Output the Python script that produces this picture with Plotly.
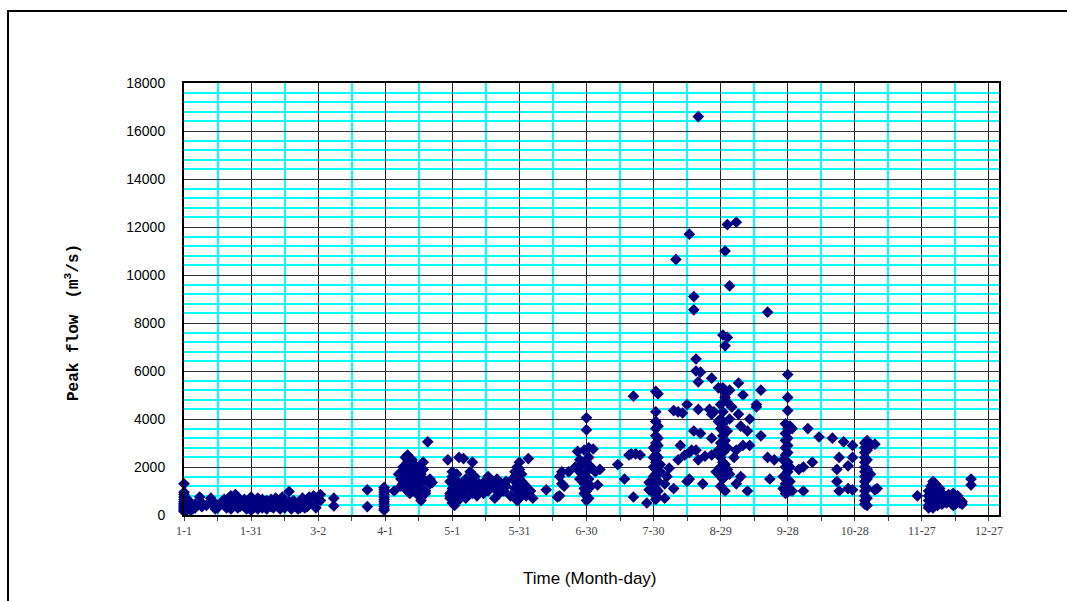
import plotly.graph_objects as go

# Tick positions (day of year, 0 = Jan 1) and labels
tick_days = [0, 30, 60, 90, 120, 150, 180, 210, 240, 270, 300, 330, 360]
tick_labels = ["1-1", "1-31", "3-2", "4-1", "5-1", "5-31", "6-30",
               "7-30", "8-29", "9-28", "10-28", "11-27", "12-27"]

# Peak flows (m3/s) grouped by day of year
winter = [
    (0, [1300, 950, 850, 750, 650, 550, 480, 420, 360, 300, 250, 200, 150]),
    (1, [700, 500, 350, 250, 180]), (2, [600, 420, 280]), (3, [500, 300, 200]),
    (4, [380, 250]), (5, [450, 300]), (7, [750]), (8, [350, 500]), (10, [400]),
    (12, [700]), (13, [550]), (14, [450, 350, 250]), (15, [300]), (17, [550]),
    (18, [650, 400]), (19, [500, 300]), (20, [600, 700, 350]), (21, [800, 450, 250]),
    (22, [650, 550]), (23, [850, 400]), (24, [750, 500, 300]), (25, [600, 350]),
    (26, [450, 550]), (27, [350, 650]), (28, [500, 250]), (29, [400, 600]),
    (30, [750, 650, 550, 450, 350, 250, 200]), (31, [500, 300]), (32, [600, 400]),
    (33, [700, 350, 250]), (34, [500, 450]), (35, [300, 650]), (36, [550, 400]),
    (37, [250, 600]), (38, [450]), (39, [650, 350]), (40, [300, 550]),
    (41, [700, 450]), (42, [500, 350]), (43, [600, 250]), (44, [750]),
    (45, [450, 300]), (47, [980, 550]), (48, [250]), (49, [600, 400]), (50, [350]),
    (51, [500, 250]), (52, [300, 450]), (53, [700, 400]), (54, [550, 300]),
    (55, [600, 350]), (56, [750, 450]), (58, [800]), (59, [650, 300]),
    (61, [850, 600]), (67, [700, 380]), (82, [1050, 350]),
]
spring = [
    (89.5, [1150, 1050, 950, 850, 750, 650, 550, 450, 350, 250, 200]),
    (94, [1000]), (96, [1700]), (97, [1500, 1200]), (98, [2000, 1800, 1300]),
    (99, [2400, 1600, 1100]), (100, [2500, 2200, 1400, 1000]),
    (101, [1900, 1700, 1200, 900]), (102, [2300, 1500, 1300]),
    (103, [2100, 1800, 1000]), (104, [1600, 1400, 1200]), (105, [2000, 1100, 800]),
    (106, [1700, 1300, 600]), (107, [1900, 2200, 1500]), (108, [1000, 900]),
    (109, [3050, 1400]), (110, [1500, 1300]), (111, [1350]),
    (118, [2300]), (119, [1400, 900, 800, 700]),
    (120, [1800, 1600, 1300, 1100, 900, 700, 500]), (121, [1500, 1200, 1000, 600, 400]),
    (122, [1700, 1400, 800, 550]), (123, [2400, 1300, 900, 650]), (124, [1100, 800]),
    (125, [2350, 1200, 950]), (126, [1500, 1000, 700]), (127, [1300]),
    (128, [1800, 1100]), (129, [2200, 1400, 900]), (130, [1600, 1200]),
    (131, [1000, 800]), (132, [1300]), (134, [1150, 900]), (135, [1450]),
    (136, [1600, 1000]), (137, [1350, 1200]), (139, [700, 1100]), (140, [1500]),
    (141, [1300, 900]), (143, [1000]), (144, [1400, 1200]), (146, [800]),
    (147, [1500]), (148, [1600, 1100, 1800]), (149, [2000, 1300, 600]),
    (150, [2200, 1900, 1500, 1100, 900, 700]), (151, [1700, 1000, 1400]),
    (153, [1200, 800]), (154, [2350]), (155, [1000]), (156, [700]),
    (162, [1050]), (167, [750]), (168, [800, 1600]), (169, [1300, 1800]),
    (170, [1200]), (172, [1800]), (175, [2000]), (176, [1900, 2650]),
    (177, [1500, 2300]), (178, [1700, 2100]), (179, [1600, 1300, 2700, 1100, 900]),
    (180, [4050, 3550, 2200, 1800, 1400, 1000, 800, 600]),
    (181, [2800, 2400, 1500, 700]), (182, [2000, 1200]), (183, [2750, 1900]),
    (184, [1800]), (185, [1250]), (186, [1900]),
]
summer = [
    (194, [2100]), (197, [1500]), (199, [2500]), (200, [2550]), (201, [750, 4950]),
    (202, [2550]), (204, [2500]), (207, [500]), (208, [1050, 1350]),
    (210, [2800, 2400, 2000, 1600, 1200, 900]),
    (211, [5150, 4300, 3900, 3600, 3300, 3000, 2700, 2500, 2200, 1900, 1700, 1500, 1100, 800, 650]),
    (212, [5050, 3700, 3200, 2900, 2400, 1400, 1000]), (213, [1800, 2100]),
    (215, [1300, 700]), (216, [1600]), (217, [1950]), (219, [4350, 1100]),
    (220, [10650]), (221, [4300, 2300]), (222, [2900]), (223, [4250]), (224, [2500]),
    (225, [4600, 1400]), (226, [11700, 2600, 1500]), (227, [2700]),
    (228, [9100, 8550, 3500]), (229, [6000, 6500, 2700]),
    (230, [16600, 5550, 4400, 2300]), (231, [5950, 3400]), (232, [1300]),
    (233, [2450]), (235, [4400]), (236, [5700, 4200, 3200, 2500]), (237, [4300]),
    (238, [1800]), (239, [5300, 3900, 2700]),
    (240, [4600, 4000, 3600, 3000, 2400, 2000, 1600, 1200]),
    (241, [7500, 5300, 4300, 3800, 3300, 2900, 2600, 2200, 1800, 1500]),
    (242, [11000, 7050, 5100, 4900, 3100, 2100, 1000]),
    (243, [12100, 7400, 4700, 3500, 2800, 1900]), (244, [9550, 5200, 4000, 1700]),
    (245, [4500]), (246, [2400]), (247, [12200, 2700, 1300]), (248, [5500, 4200]),
    (249, [3700, 1600]), (250, [5000, 2900]), (252, [3500, 1000]), (253, [4000, 2900]),
    (256, [4600, 4500]), (258, [5200, 3300]), (261, [8450, 2400]), (262, [1500]),
    (264, [2300]),
]
autumn = [
    (268, [2300, 1600, 1100]),
    (269, [3800, 3400, 3100, 2800, 2500, 2000, 1600, 1300, 1000, 900]),
    (270, [5850, 4900, 4350, 3600, 3200, 2900, 2600, 2200, 1800, 1200, 950]),
    (271, [3700, 2000, 1400, 1050]), (272, [3600, 1000]), (275, [1900]),
    (277, [2000, 1000]), (279, [3600]), (281, [2200]), (284, [3250]),
    (290, [3200]), (292, [1900, 1400]), (293, [2400, 1000]), (295, [3050]),
    (297, [2050, 1100]), (299, [2900, 2400, 1050]),
    (304.5, [3000, 2800, 2600, 2400, 2200, 2000, 1800, 1600, 1400, 1200, 1000, 800, 600, 450]),
    (305.5, [3100, 2700, 2300, 1900, 1500, 1100, 700, 400]),
    (307, [2900, 1700]), (309, [2950, 1050]), (310, [1100]),
    (328, [800]), (333, [1000, 800, 600, 400, 300]),
    (334, [1200, 900, 700, 500, 350]), (335, [1400, 1100, 800, 600, 450, 300]),
    (336, [1300, 1000, 700, 500]), (337, [900, 600, 400]), (338, [1100, 800, 550]),
    (339, [900, 700, 450]), (340, [800, 600]), (341, [650, 500]), (342, [850, 700]),
    (343, [750, 550]), (344, [900, 600, 400]), (345, [700, 450]), (346, [800, 600]),
    (347, [650, 500]), (348, [550, 450]), (352, [1500, 1250]),
]

days, flows = [], []
for group in (winter, spring, summer, autumn):
    for d, vals in group:
        for v in vals:
            days.append(d)
            flows.append(v)

fig = go.Figure()
fig.add_trace(go.Scatter(
    x=days, y=flows, mode="markers", cliponaxis=False,
    marker=dict(symbol="diamond", size=9, color="#000080", line=dict(width=0)),
    showlegend=False,
))

W, H = 1067, 601
L, R, T, B = 184, 68, 83, 86
pw, ph = W - L - R, H - T - B

fig.update_layout(
    width=W, height=H,
    margin=dict(l=L, r=R, t=T, b=B, autoexpand=False),
    paper_bgcolor="white", plot_bgcolor="white",
    xaxis=dict(
        range=[0, 364.5], tickmode="linear", tick0=0, dtick=30,
        labelalias={str(d): lab for d, lab in zip(tick_days, tick_labels)},
        showgrid=True, gridcolor="#222222", gridwidth=1,
        minor=dict(dtick=15, tick0=0, showgrid=True, gridcolor="#00FFFF",
                   gridwidth=2, ticks="outside", ticklen=4, tickcolor="#444"),
        ticks="outside", ticklen=4, tickcolor="#444",
        showline=True, linecolor="black", linewidth=2, mirror=True,
        tickfont=dict(family="Liberation Serif, DejaVu Serif, serif", size=12, color="#444"),
        zeroline=False,
    ),
    yaxis=dict(
        range=[0, 18000], tickmode="linear", dtick=2000, tick0=0, tickformat="d",
        showgrid=True, gridcolor="#333333", gridwidth=1,
        minor=dict(dtick=400, tick0=0, showgrid=True, gridcolor="#00FFFF", gridwidth=2),
        ticks="", ticklabelstandoff=14,
        showline=True, linecolor="black", linewidth=2, mirror=True,
        tickfont=dict(family="Arial, Liberation Sans, sans-serif", size=14, color="black"),
        zeroline=False,
    ),
    annotations=[
        dict(text="<b>Peak flow\u3000(m<sup>3</sup>/s)</b>", textangle=-90,
             xref="paper", yref="paper", x=(72 - L) / pw, y=(H - B - 322) / ph,
             xanchor="center", yanchor="middle", showarrow=False,
             font=dict(family="Liberation Mono, Courier New, monospace", size=16, color="black")),
        dict(text="Time (Month-day)", xref="paper", yref="paper",
             x=(590 - L) / pw, y=-(578 - (H - B)) / ph,
             xanchor="center", yanchor="middle", showarrow=False,
             font=dict(family="Arial, Liberation Sans, sans-serif", size=17, color="black")),
    ],
    shapes=[
        dict(type="rect", xref="paper", yref="paper",
             x0=(8 - L) / pw, x1=3, y0=-2, y1=1 + (T - 11) / ph,
             line=dict(color="black", width=2), fillcolor="rgba(0,0,0,0)", layer="below"),
    ],
)

fig.write_html("out.html")
